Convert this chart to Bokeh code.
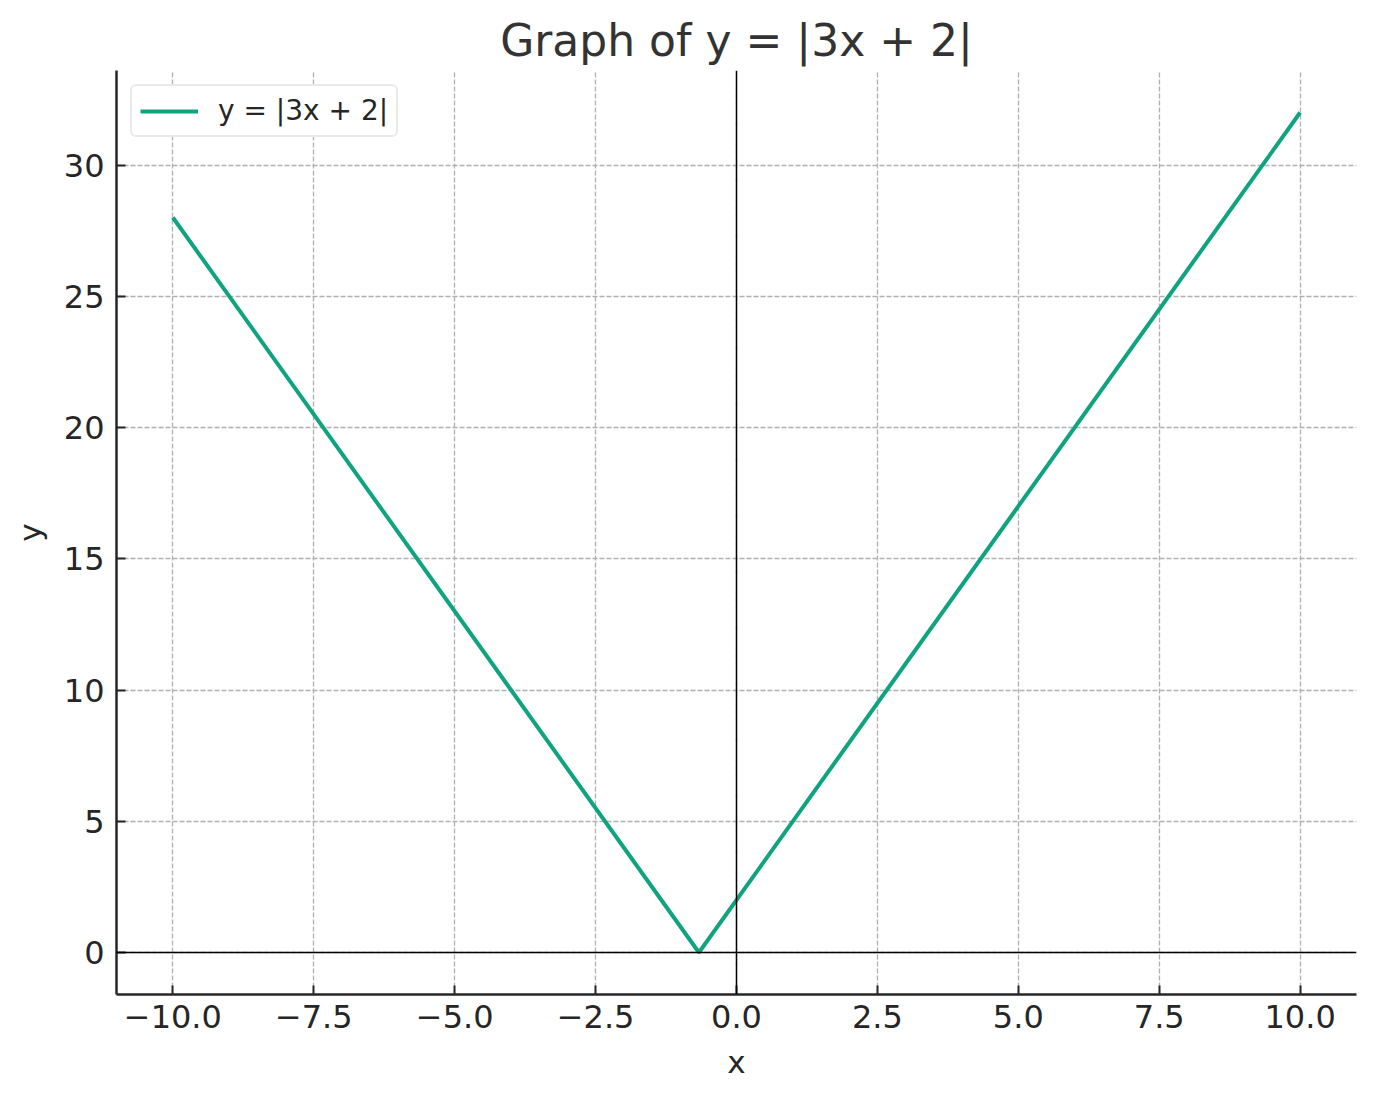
from bokeh.plotting import figure
from bokeh.embed import file_html
from bokeh.resources import INLINE
from bokeh.models import Span, FixedTicker, Range1d, Legend, LegendItem

# Data: y = |3x + 2| (vertex at x = -2/3)
x_vals = [-10.0, -0.6667, 10.0]
y_vals = [28.0, 0.0, 32.0]
x_ticks = [-10.0, -7.5, -5.0, -2.5, 0.0, 2.5, 5.0, 7.5, 10.0]
y_ticks = [0, 5, 10, 15, 20, 25, 30]
title_text = "Graph of y = |3x + 2|"
series_label = "y = |3x + 2|"

FONT = "DejaVu Sans"
TXT = "#262626"

p = figure(width=1360, height=1085, output_backend="svg", toolbar_location=None,
           x_range=Range1d(-11, 11), y_range=Range1d(-1.6, 33.6),
           min_border_left=116, min_border_right=4, min_border_top=70, min_border_bottom=91)
p.outline_line_color = None
p.background_fill_color = "white"

p.title.text = title_text
p.title.text_font = FONT
p.title.text_font_size = "44px"
p.title.text_font_style = "normal"
p.title.text_color = "#333333"
p.title.align = "center"
p.title.offset = 0

for ax in (p.xaxis[0], p.yaxis[0]):
    ax.axis_line_width = 2.5
    ax.axis_line_color = TXT
    ax.major_tick_in = 9
    ax.major_tick_out = 0
    ax.major_tick_line_width = 2
    ax.major_tick_line_color = TXT
    ax.minor_tick_line_color = None
    ax.major_label_text_font = FONT
    ax.major_label_text_font_size = "32px"
    ax.major_label_text_color = TXT
    ax.axis_label_text_font = FONT
    ax.axis_label_text_font_size = "31px"
    ax.axis_label_text_font_style = "normal"
    ax.axis_label_text_color = TXT

p.xaxis.ticker = FixedTicker(ticks=x_ticks)
p.xaxis.major_label_overrides = {t: f"{t:.1f}".replace("-", "\u2212") for t in x_ticks}
p.yaxis.ticker = FixedTicker(ticks=y_ticks)
p.xaxis.axis_label = "x"
p.yaxis.axis_label = "y"
p.xaxis.major_label_standoff = 10
p.yaxis.major_label_standoff = 12
p.xaxis.axis_label_standoff = 13
p.yaxis.axis_label_standoff = 13

for g in (p.xgrid[0], p.ygrid[0]):
    g.grid_line_color = "#b0b0b0"
    g.grid_line_dash = "5 2"
    g.grid_line_width = 1.3

p.add_layout(Span(location=0, dimension="width", line_color="black", line_width=1.5))
p.add_layout(Span(location=0, dimension="height", line_color="black", line_width=1.5))

r = p.line(x_vals, y_vals, line_color="#10a37f", line_width=4)

legend = Legend(items=[LegendItem(label=series_label, renderers=[r])], location="top_left")
legend.label_text_font = FONT
legend.label_text_font_size = "28px"
legend.label_text_color = TXT
legend.border_line_color = "#d6d6d6"
legend.border_line_width = 2
legend.border_radius = 6
legend.background_fill_alpha = 1
legend.margin = 14
legend.padding = 8
legend.glyph_width = 58
legend.label_standoff = 20
legend.label_height = 32
legend.glyph_height = 32
p.add_layout(legend)

open("out.html", "w").write(file_html(p, INLINE))
